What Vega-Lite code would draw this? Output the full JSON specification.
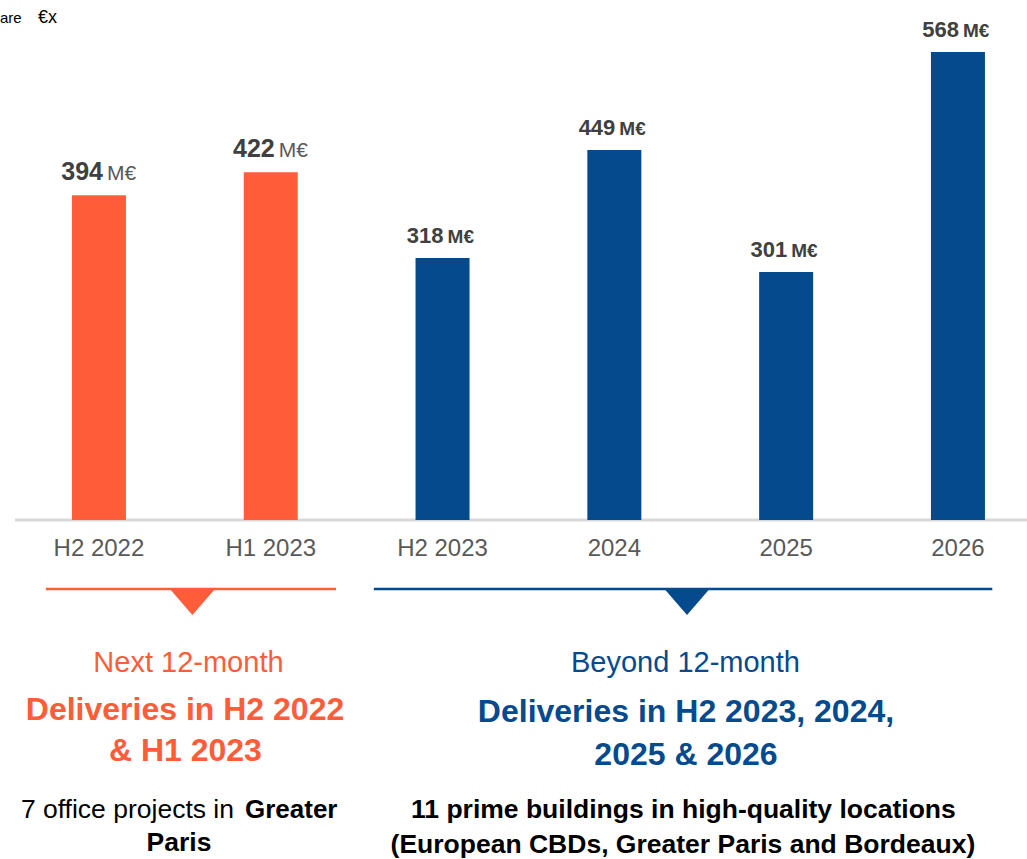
{
  "$schema": "https://vega.github.io/schema/vega-lite/v6.json",
  "width": 1027,
  "height": 859,
  "autosize": {"type": "none"},
  "padding": 0,
  "background": "white",
  "config": {"view": {"stroke": null}, "font": "Liberation Sans", "scale": {"continuousPadding": 0}},
  "datasets": {
    "bars": [
      {"period": "H2 2022", "idx": 1, "value": 394, "horizon": "Next 12-month"},
      {"period": "H1 2023", "idx": 2, "value": 422, "horizon": "Next 12-month"},
      {"period": "H2 2023", "idx": 3, "value": 318, "horizon": "Beyond 12-month"},
      {"period": "2024", "idx": 4, "value": 449, "horizon": "Beyond 12-month"},
      {"period": "2025", "idx": 5, "value": 301, "horizon": "Beyond 12-month"},
      {"period": "2026", "idx": 6, "value": 568, "horizon": "Beyond 12-month"}
    ],
    "groups": [
      {"horizon": "Next 12-month", "start": 0.691, "end": 2.38, "mid": 1.544},
      {"horizon": "Beyond 12-month", "start": 2.6, "end": 6.2, "mid": 4.423}
    ],
    "notes": [
      {"kind": "sub", "text": "Next 12-month", "horizon": "Next 12-month", "x": 1.521, "y": -173.6},
      {"kind": "sub", "text": "Beyond 12-month", "horizon": "Beyond 12-month", "x": 4.414, "y": -173.6},
      {"kind": "head", "text": "Deliveries in H2 2022", "horizon": "Next 12-month", "x": 1.501, "y": -230.5},
      {"kind": "head", "text": "& H1 2023", "horizon": "Next 12-month", "x": 1.503, "y": -280.2},
      {"kind": "head", "text": "Deliveries in H2 2023, 2024,", "horizon": "Beyond 12-month", "x": 4.417, "y": -232.9},
      {"kind": "head", "text": "2025 & 2026", "horizon": "Beyond 12-month", "x": 4.417, "y": -285.1},
      {"kind": "bodyRegular", "text": "7 office projects in", "horizon": "Next 12-month", "x": 1.786, "y": -352.0},
      {"kind": "bodyBoldLeft", "text": "Greater", "horizon": "Next 12-month", "x": 1.85, "y": -352.0},
      {"kind": "bodyBold", "text": "Paris", "horizon": "Next 12-month", "x": 1.466, "y": -392.1},
      {"kind": "bodyBold", "text": "11 prime buildings in high-quality locations", "horizon": "Beyond 12-month", "x": 4.402, "y": -352.0},
      {"kind": "bodyBold", "text": "(European CBDs, Greater Paris and Bordeaux)", "horizon": "Beyond 12-month", "x": 4.399, "y": -394.5},
      {"kind": "cropA", "text": "are", "horizon": "", "x": 0.424, "y": 609.2},
      {"kind": "cropB", "text": "€x", "horizon": "", "x": 0.645, "y": 609.2}
    ]
  },
  "layer": [
    {
      "data": {"values": [{}]},
      "mark": {"type": "rule", "color": "#D9D9D9", "strokeWidth": 3},
      "encoding": {
        "x": {"datum": 0.511, "type": "quantitative", "scale": {"domain": [0.424, 6.402], "nice": false, "zero": false, "padding": 0}, "axis": null},
        "x2": {"datum": 6.402},
        "y": {"datum": 0, "type": "quantitative", "scale": {"domain": [-411.5, 631], "nice": false, "zero": false, "padding": 0}, "axis": null}
      }
    },
    {
      "data": {"name": "bars"},
      "mark": {"type": "bar", "size": 54},
      "encoding": {
        "x": {"field": "idx", "type": "quantitative", "scale": {"domain": [0.424, 6.402], "nice": false, "zero": false, "padding": 0}, "axis": null},
        "y": {"field": "value", "type": "quantitative", "scale": {"domain": [-411.5, 631], "nice": false, "zero": false, "padding": 0}, "axis": null},
        "y2": {"datum": 0},
        "color": {"field": "horizon", "type": "nominal", "scale": {"domain": ["Next 12-month", "Beyond 12-month"], "range": ["#FF5C3A", "#044A8D"]}, "legend": null}
      }
    },
    {
      "data": {"name": "bars"},
      "transform": [{"filter": "datum.horizon === 'Next 12-month'"}],
      "mark": {"type": "text", "align": "right", "baseline": "alphabetic", "dx": 4, "dy": -15, "fontSize": 25, "fontWeight": "bold", "color": "#404040"},
      "encoding": {
        "x": {"field": "idx", "type": "quantitative", "scale": {"domain": [0.424, 6.402], "nice": false, "zero": false, "padding": 0}, "axis": null},
        "y": {"field": "value", "type": "quantitative", "scale": {"domain": [-411.5, 631], "nice": false, "zero": false, "padding": 0}, "axis": null},
        "text": {"field": "value", "type": "quantitative"}
      }
    },
    {
      "data": {"name": "bars"},
      "transform": [{"filter": "datum.horizon === 'Next 12-month'"}],
      "mark": {"type": "text", "align": "left", "baseline": "alphabetic", "dx": 8, "dy": -15, "fontSize": 21, "color": "#595959"},
      "encoding": {
        "x": {"field": "idx", "type": "quantitative", "scale": {"domain": [0.424, 6.402], "nice": false, "zero": false, "padding": 0}, "axis": null},
        "y": {"field": "value", "type": "quantitative", "scale": {"domain": [-411.5, 631], "nice": false, "zero": false, "padding": 0}, "axis": null},
        "text": {"value": "M€"}
      }
    },
    {
      "data": {"name": "bars"},
      "transform": [{"filter": "datum.horizon === 'Beyond 12-month'"}],
      "mark": {"type": "text", "align": "right", "baseline": "alphabetic", "dx": 1, "dy": -15, "fontSize": 22, "fontWeight": "bold", "color": "#404040"},
      "encoding": {
        "x": {"field": "idx", "type": "quantitative", "scale": {"domain": [0.424, 6.402], "nice": false, "zero": false, "padding": 0}, "axis": null},
        "y": {"field": "value", "type": "quantitative", "scale": {"domain": [-411.5, 631], "nice": false, "zero": false, "padding": 0}, "axis": null},
        "text": {"field": "value", "type": "quantitative"}
      }
    },
    {
      "data": {"name": "bars"},
      "transform": [{"filter": "datum.horizon === 'Beyond 12-month'"}],
      "mark": {"type": "text", "align": "left", "baseline": "alphabetic", "dx": 5, "dy": -15, "fontSize": 19, "fontWeight": "bold", "color": "#404040"},
      "encoding": {
        "x": {"field": "idx", "type": "quantitative", "scale": {"domain": [0.424, 6.402], "nice": false, "zero": false, "padding": 0}, "axis": null},
        "y": {"field": "value", "type": "quantitative", "scale": {"domain": [-411.5, 631], "nice": false, "zero": false, "padding": 0}, "axis": null},
        "text": {"value": "M€"}
      }
    },
    {
      "data": {"name": "bars"},
      "mark": {"type": "text", "align": "center", "baseline": "middle", "fontSize": 24, "color": "#595959"},
      "encoding": {
        "x": {"field": "idx", "type": "quantitative", "scale": {"domain": [0.424, 6.402], "nice": false, "zero": false, "padding": 0}, "axis": null},
        "y": {"datum": -35.3, "type": "quantitative", "scale": {"domain": [-411.5, 631], "nice": false, "zero": false, "padding": 0}, "axis": null},
        "text": {"field": "period", "type": "nominal"}
      }
    },
    {
      "data": {"name": "groups"},
      "mark": {"type": "rule", "strokeWidth": 2.5},
      "encoding": {
        "x": {"field": "start", "type": "quantitative", "scale": {"domain": [0.424, 6.402], "nice": false, "zero": false, "padding": 0}, "axis": null},
        "x2": {"field": "end"},
        "y": {"datum": -83.8, "type": "quantitative", "scale": {"domain": [-411.5, 631], "nice": false, "zero": false, "padding": 0}, "axis": null},
        "color": {"field": "horizon", "type": "nominal", "scale": {"domain": ["Next 12-month", "Beyond 12-month"], "range": ["#FF5C3A", "#044A8D"]}, "legend": null}
      }
    },
    {
      "data": {"name": "groups"},
      "mark": {"type": "point", "shape": "M-1,0L1,0L0,1.16Z", "size": 2025, "filled": true, "opacity": 1, "strokeWidth": 0},
      "encoding": {
        "x": {"field": "mid", "type": "quantitative", "scale": {"domain": [0.424, 6.402], "nice": false, "zero": false, "padding": 0}, "axis": null},
        "y": {"datum": -83.8, "type": "quantitative", "scale": {"domain": [-411.5, 631], "nice": false, "zero": false, "padding": 0}, "axis": null},
        "color": {"field": "horizon", "type": "nominal", "scale": {"domain": ["Next 12-month", "Beyond 12-month"], "range": ["#FF5C3A", "#044A8D"]}, "legend": null}
      }
    },
    {
      "data": {"name": "notes"},
      "transform": [{"filter": "datum.kind === 'sub'"}],
      "mark": {"type": "text", "align": "center", "baseline": "middle", "fontSize": 29},
      "encoding": {
        "x": {"field": "x", "type": "quantitative", "scale": {"domain": [0.424, 6.402], "nice": false, "zero": false, "padding": 0}, "axis": null},
        "y": {"field": "y", "type": "quantitative", "scale": {"domain": [-411.5, 631], "nice": false, "zero": false, "padding": 0}, "axis": null},
        "text": {"field": "text", "type": "nominal"},
        "color": {"field": "horizon", "type": "nominal", "scale": {"domain": ["Next 12-month", "Beyond 12-month"], "range": ["#FF5C3A", "#044A8D"]}, "legend": null}
      }
    },
    {
      "data": {"name": "notes"},
      "transform": [{"filter": "datum.kind === 'head'"}],
      "mark": {"type": "text", "align": "center", "baseline": "middle", "fontSize": 32, "fontWeight": "bold"},
      "encoding": {
        "x": {"field": "x", "type": "quantitative", "scale": {"domain": [0.424, 6.402], "nice": false, "zero": false, "padding": 0}, "axis": null},
        "y": {"field": "y", "type": "quantitative", "scale": {"domain": [-411.5, 631], "nice": false, "zero": false, "padding": 0}, "axis": null},
        "text": {"field": "text", "type": "nominal"},
        "color": {"field": "horizon", "type": "nominal", "scale": {"domain": ["Next 12-month", "Beyond 12-month"], "range": ["#FF5C3A", "#044A8D"]}, "legend": null}
      }
    },
    {
      "data": {"name": "notes"},
      "transform": [{"filter": "datum.kind === 'bodyRegular'"}],
      "mark": {"type": "text", "align": "right", "baseline": "middle", "fontSize": 26.5, "color": "#000000"},
      "encoding": {
        "x": {"field": "x", "type": "quantitative", "scale": {"domain": [0.424, 6.402], "nice": false, "zero": false, "padding": 0}, "axis": null},
        "y": {"field": "y", "type": "quantitative", "scale": {"domain": [-411.5, 631], "nice": false, "zero": false, "padding": 0}, "axis": null},
        "text": {"field": "text", "type": "nominal"}
      }
    },
    {
      "data": {"name": "notes"},
      "transform": [{"filter": "datum.kind === 'bodyBoldLeft'"}],
      "mark": {"type": "text", "align": "left", "baseline": "middle", "fontSize": 26, "fontWeight": "bold", "color": "#000000"},
      "encoding": {
        "x": {"field": "x", "type": "quantitative", "scale": {"domain": [0.424, 6.402], "nice": false, "zero": false, "padding": 0}, "axis": null},
        "y": {"field": "y", "type": "quantitative", "scale": {"domain": [-411.5, 631], "nice": false, "zero": false, "padding": 0}, "axis": null},
        "text": {"field": "text", "type": "nominal"}
      }
    },
    {
      "data": {"name": "notes"},
      "transform": [{"filter": "datum.kind === 'bodyBold'"}],
      "mark": {"type": "text", "align": "center", "baseline": "middle", "fontSize": 26.5, "fontWeight": "bold", "color": "#000000"},
      "encoding": {
        "x": {"field": "x", "type": "quantitative", "scale": {"domain": [0.424, 6.402], "nice": false, "zero": false, "padding": 0}, "axis": null},
        "y": {"field": "y", "type": "quantitative", "scale": {"domain": [-411.5, 631], "nice": false, "zero": false, "padding": 0}, "axis": null},
        "text": {"field": "text", "type": "nominal"}
      }
    },
    {
      "data": {"name": "notes"},
      "transform": [{"filter": "datum.kind === 'cropA'"}],
      "mark": {"type": "text", "align": "left", "baseline": "middle", "fontSize": 15, "color": "#000000"},
      "encoding": {
        "x": {"field": "x", "type": "quantitative", "scale": {"domain": [0.424, 6.402], "nice": false, "zero": false, "padding": 0}, "axis": null},
        "y": {"field": "y", "type": "quantitative", "scale": {"domain": [-411.5, 631], "nice": false, "zero": false, "padding": 0}, "axis": null},
        "text": {"field": "text", "type": "nominal"}
      }
    },
    {
      "data": {"name": "notes"},
      "transform": [{"filter": "datum.kind === 'cropB'"}],
      "mark": {"type": "text", "align": "left", "baseline": "middle", "fontSize": 18, "color": "#000000"},
      "encoding": {
        "x": {"field": "x", "type": "quantitative", "scale": {"domain": [0.424, 6.402], "nice": false, "zero": false, "padding": 0}, "axis": null},
        "y": {"field": "y", "type": "quantitative", "scale": {"domain": [-411.5, 631], "nice": false, "zero": false, "padding": 0}, "axis": null},
        "text": {"field": "text", "type": "nominal"}
      }
    }
  ]
}
